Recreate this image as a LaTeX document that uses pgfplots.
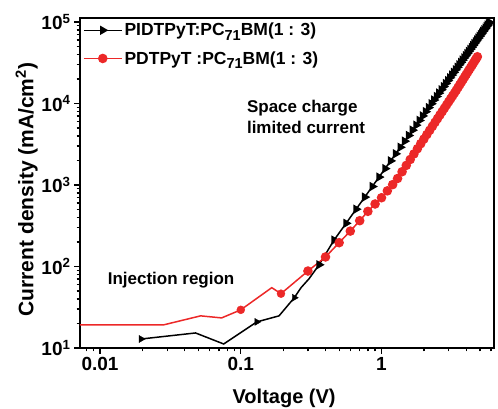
\documentclass[border=0pt]{standalone}
\usepackage{pgfplots}
\pgfplotsset{compat=1.18}
\usepackage{fontspec}
\setmainfont{Liberation Sans}
\definecolor{myred}{RGB}{236,40,40}
\newcommand\subs[1]{\raisebox{-0.45ex}{\fontsize{14.5}{15}\selectfont\bfseries #1}}
\begin{document}
\begin{tikzpicture}
\begin{axis}[
  scale only axis, width=414pt, height=330pt,
  xmode=log, ymode=log,
  xmin=0.0072, xmax=6.3, ymin=10, ymax=1.12e5,
  axis line style={line width=1.6pt},
  tick align=outside, tick pos=left,
  major tick length=6pt, minor tick length=3.5pt,
  every tick/.style={line width=1.3pt, black},
  xtick={0.01,0.1,1}, xticklabels={0.01,0.1,1},
  minor xtick={0.008,0.009,0.02,0.03,0.04,0.05,0.06,0.07,0.08,0.09,0.2,0.3,0.4,0.5,0.6,0.7,0.8,0.9,2,3,4,5,6},
  ytick={10,100,1000,10000,100000},
  yticklabels={10\textsuperscript{1},10\textsuperscript{2},10\textsuperscript{3},10\textsuperscript{4},10\textsuperscript{5}},
  minor ytick={20,30,40,50,60,70,80,90,200,300,400,500,600,700,800,900,2000,3000,4000,5000,6000,7000,8000,9000,20000,30000,40000,50000,60000,70000,80000,90000},
  tick label style={font=\fontsize{19}{21}\selectfont\bfseries},
  xlabel={Voltage (V)},
  ylabel={Current density (mA/cm\textsuperscript{2})},
  label style={font=\fontsize{20}{23}\selectfont\bfseries},
  xlabel style={at={(axis description cs:0.493,-0.152)}, anchor=center},
  ylabel style={at={(axis description cs:-0.129,0.48)}, anchor=center, font=\fontsize{21}{23}\selectfont\bfseries},
  legend style={draw=none, fill=none, at={(axis description cs:0.002,1)}, anchor=north west,
    font=\fontsize{17.5}{19}\selectfont\bfseries, row sep=10pt, inner xsep=2pt, inner ysep=3pt},
  legend cell align=left,
  legend image code/.code={\draw[mark repeat=2,mark phase=2,#1] plot coordinates {(0pt,0pt) (19pt,0pt) (38pt,0pt)};},
]
\addlegendimage{black, line width=1.5pt, mark=triangle*, mark size=4pt, mark options={rotate=-90}}
\addlegendentry{PIDTPyT:PC\subs{71}BM(1 : 3)}
\addlegendimage{myred, line width=1.5pt, mark=*, mark size=4pt}
\addlegendentry{PDTPyT :PC\subs{71}BM(1 : 3)}

% black, low-voltage part (line only)
\addplot[forget plot, black, line width=1.5pt, mark=none] coordinates {
(0.0196,12.9) (0.0477,15.3) (0.0756,11.2) (0.13,20.9) (0.187,24.8) (0.24,41.4)
(0.268,55) (0.306,71) (0.36,105)};
% black markers in low part
\addplot[forget plot, black, only marks, mark=triangle*, mark size=4pt, mark options={rotate=-90}] coordinates {
(0.0196,12.9) (0.13,20.9) (0.24,41.4)};
% black main part
\addplot[forget plot, black, line width=1.5pt, mark=triangle*, mark size=4pt, mark options={rotate=-90}] coordinates {
(0.36,105) (0.46,211) (0.56,339) (0.66,505) (0.76,710) (0.86,958) (0.96,1251)
(1.06,1589) (1.16,1978) (1.26,2415) (1.36,2905) (1.46,3450) (1.56,4049) (1.66,4706)
(1.76,5422) (1.86,6197) (1.96,7038) (2.06,7937) (2.16,8902) (2.26,9929) (2.36,11030)
(2.46,12190) (2.56,13420) (2.66,14740) (2.76,16110) (2.86,17560) (2.96,19080)
(3.06,20670) (3.16,22350) (3.26,24090) (3.36,25930) (3.46,27840) (3.56,29820)
(3.66,31890) (3.76,34040) (3.86,36270) (3.96,38590) (4.06,40990) (4.16,43470)
(4.26,46040) (4.36,48700) (4.46,51440) (4.56,54290) (4.66,57220) (4.76,60230)
(4.86,63330) (4.96,66540) (5.06,69860) (5.16,73190) (5.26,76700) (5.36,80300)
(5.46,83950) (5.56,87740) (5.66,91580) (5.76,95550) (5.86,99000)};

% red, low-voltage part (line only)
\addplot[forget plot, myred, line width=1.5pt, mark=none] coordinates {
(0.005,19.2) (0.0282,19.2) (0.0518,24.8) (0.0731,23.4) (0.1,29.4) (0.166,55)
(0.193,46.4) (0.3,88)};
\addplot[forget plot, myred, only marks, mark=*, mark size=4pt] coordinates {
(0.1,29.4) (0.193,46.4)};
% red main part
\addplot[forget plot, myred, line width=1.5pt, mark=*, mark size=4pt] coordinates {
(0.3,88) (0.4,131) (0.5,196) (0.6,272) (0.7,365) (0.8,475) (0.9,585) (1.0,698)
(1.1,848) (1.2,1011) (1.3,1202) (1.4,1455) (1.5,1741) (1.6,2057) (1.7,2408)
(1.8,2790) (1.9,3213) (2.0,3664) (2.1,4159) (2.2,4690) (2.3,5260) (2.4,5875)
(2.5,6530) (2.6,7230) (2.7,7980) (2.8,8770) (2.9,9610) (3.0,10500) (3.1,11430)
(3.2,12410) (3.3,13450) (3.4,14550) (3.5,15770) (3.6,17030) (3.7,18360)
(3.8,19760) (3.9,21230) (4.0,22750) (4.1,24330) (4.2,26000) (4.3,27730)
(4.4,29520) (4.5,31400) (4.6,33370) (4.7,35400) (4.8,37500)};

\node[anchor=north west, align=left, font=\fontsize{17}{21}\selectfont\bfseries, inner sep=0pt]
  at (axis description cs:0.403,0.752) {Space charge\\limited current};
\node[anchor=center, font=\fontsize{17}{19}\selectfont\bfseries, inner sep=0pt]
  at (axis description cs:0.22,0.207) {Injection region};
\end{axis}
\pgfresetboundingbox
\useasboundingbox (-80pt,-60pt) rectangle (418pt,348pt);
\end{tikzpicture}
\end{document}
